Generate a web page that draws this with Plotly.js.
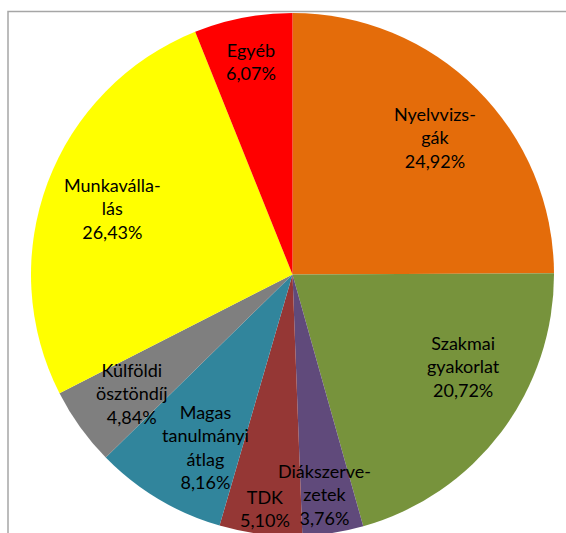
<!DOCTYPE html>
<html>
<head>
<meta charset="utf-8">
<script src="https://cdn.plot.ly/plotly-3.0.1.min.js"></script>
<style>
  html, body { margin: 0; padding: 0; overflow: hidden; background: #fff; }
  #chart { width: 566px; height: 560px; }
</style>
</head>
<body>
<div id="chart"></div>
<script>
// slices, clockwise from 12 o'clock
var categories = ["Nyelvvizsgák", "Szakmai gyakorlat", "Diákszervezetek", "TDK",
                  "Magas tanulmányi átlag", "Külföldi ösztöndíj", "Munkavállalás", "Egyéb"];
var values = [24.92, 20.72, 3.76, 5.10, 8.16, 4.84, 26.43, 6.07];
// label text as wrapped in the original
var labelText = ["Nyelvvizs-<br>gák", "Szakmai<br>gyakorlat", "Diákszerve-<br>zetek", "TDK",
                 "Magas<br>tanulmányi<br>átlag", "Külföldi<br>ösztöndíj", "Munkaválla-<br>lás", "Egyéb"];
var colors = ["#E46C0A", "#77933C", "#604A7B", "#953735", "#31859C", "#7F7F7F", "#FFFF00", "#FF0000"];

// label centres in pixels
var labelPos = [[435, 137], [463, 366], [324, 494], [265, 508],
                [205, 447], [132, 393], [112, 208], [251, 61]];

var W = 566, H = 560;
function px(x) { return x / W; }
function py(y) { return 1 - y / H; }

var trace = {
    type: "pie",
    labels: categories,
    values: values,
    sort: false,
    direction: "clockwise",
    rotation: 0,
    marker: {colors: colors, line: {width: 0}},
    textinfo: "none",
    hoverinfo: "skip",
    showlegend: false,
    domain: {x: [px(31), px(554)], y: [py(536), py(13)]}
};

var annotations = categories.map(function (c, i) {
    return {
        xref: "paper", yref: "paper",
        x: px(labelPos[i][0]), y: py(labelPos[i][1]),
        xanchor: "center", yanchor: "middle",
        text: labelText[i] + "<br>" + values[i].toFixed(2).replace(".", ",") + "%",
        showarrow: false,
        align: "center",
        font: {family: "Lato, sans-serif", size: 18, color: "#000"}
    };
});

var layout = {
    width: W, height: H,
    margin: {l: 0, r: 0, t: 0, b: 0},
    paper_bgcolor: "#fff",
    annotations: annotations,
    shapes: [{
        type: "rect", xref: "paper", yref: "paper",
        x0: px(8), x1: 1.2, y0: -0.2, y1: py(11.5),
        line: {color: "#A6A6A6", width: 1.5}
    }]
};

Plotly.newPlot("chart", [trace], layout, {displayModeBar: false, staticPlot: true});
</script>
</body>
</html>
